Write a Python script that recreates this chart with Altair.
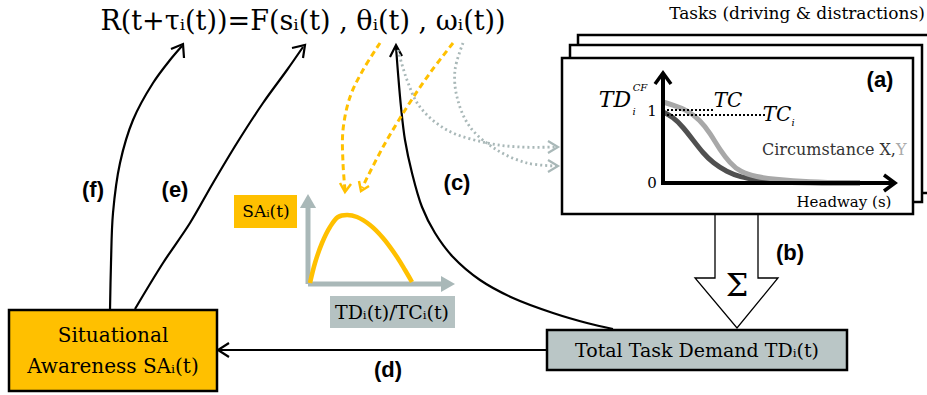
import altair as alt
import pandas as pd

W, H = 927, 395

# ---------------- boxes (x0, x1, y0, y1) ----------------
BOX_X0 = [578, 570, 562, 9, 547]
BOX_X1 = [940, 922, 913, 217, 847]
BOX_Y0 = [35, 45, 58, 310, 330]
BOX_Y1 = [193, 202, 214, 391, 370]
BOX_FILL = ["white", "white", "white", "#ffc000", "#bac6c6"]

# label patches without border
TAG_X0 = [234, 330]
TAG_X1 = [297, 455]
TAG_Y0 = [195, 296]
TAG_Y1 = [228, 328]
TAG_FILL = ["#ffc000", "#b5c2c2"]

# ---------------- solid black feedback curves ----------------
F_X = [110, 111, 113, 120, 133, 153, 170, 182]
F_Y = [310, 263, 213, 163, 120, 83, 60, 46]
E_X = [135, 163, 190, 213, 237, 263, 287, 303]
E_Y = [309, 263, 223, 183, 143, 103, 70, 47]
C_X = [613, 587, 553, 513, 480, 453, 435, 422, 412, 405, 401, 398, 396]
C_Y = [329, 323, 313, 298, 280, 257, 233, 207, 173, 140, 107, 73, 47]

# ---------------- dashed orange curves ----------------
O1_X = [380, 363, 350, 343, 343, 345]
O1_Y = [43, 70, 97, 130, 163, 190]
O2_X = [453, 430, 407, 383, 362]
O2_Y = [43, 73, 107, 147, 188]

# ---------------- dotted grey curves ----------------
G1_X = [398, 407, 420, 447, 487, 520, 556]
G1_Y = [50, 80, 107, 130, 143, 147, 147]
G2_X = [463, 455, 457, 470, 497, 527, 556]
G2_Y = [43, 70, 97, 127, 150, 163, 166]

# ---------------- task demand curves in panel (a) ----------------
DARK_X = [663, 673, 683, 693, 703, 713, 727, 740, 757, 773, 807, 860]
DARK_Y = [112, 117, 127, 140, 153, 163, 172, 177, 180, 182, 183, 183]
LIGHT_X = [663, 673, 687, 700, 710, 720, 730, 740, 757, 773, 807, 860]
LIGHT_Y = [102, 105, 110, 120, 133, 150, 163, 172, 177, 179, 182, 183]

# ---------------- SA curve in the inset ----------------
SA_X = [310, 315, 322, 330, 338, 347, 357, 370, 383, 397, 405, 412]
SA_Y = [283, 263, 243, 227, 217, 215, 217, 225, 238, 257, 270, 282]


def poly(name, xs, ys, color, width):
    return [dict(id=name, o=i, x=x, y=y, c=color, w=width)
            for i, (x, y) in enumerate(zip(xs, ys))]


def chevron(name, tip, a, b, color, width):
    # open arrow head: arm a -> tip -> arm b
    return poly(name, [a[0], tip[0], b[0]], [a[1], tip[1], b[1]], color, width)


xs = alt.Scale(domain=[0, W])
ys = alt.Scale(domain=[0, H], reverse=True)


def line_layer(rows, interp="linear", dash=None):
    kw = dict(interpolate=interp, strokeCap="butt", strokeJoin="miter")
    if dash:
        kw["strokeDash"] = dash
    return alt.Chart(pd.DataFrame(rows)).mark_line(**kw).encode(
        x=alt.X("x:Q", scale=xs, axis=None),
        y=alt.Y("y:Q", scale=ys, axis=None),
        detail="id:N",
        order="o:Q",
        color=alt.Color("c:N", scale=None),
        strokeWidth=alt.StrokeWidth("w:Q", scale=None),
    )


def rect_layer(x0, x1, y0, y1, fill, stroke=None, sw=0):
    df = pd.DataFrame(dict(x0=x0, x1=x1, y0=y0, y1=y1, f=fill, i=range(len(x0))))
    kw = {}
    if stroke:
        kw = dict(stroke=stroke, strokeWidth=sw)
    return alt.Chart(df).mark_rect(**kw).encode(
        x=alt.X("x0:Q", scale=xs, axis=None), x2="x1:Q",
        y=alt.Y("y0:Q", scale=ys, axis=None), y2="y1:Q",
        fill=alt.Fill("f:N", scale=None),
        order="i:Q",
    )


def text_layer(texts, tx, ty, colors, size, font="DejaVu Serif", weight="normal",
               style="normal", align="center"):
    sizes = size if isinstance(size, list) else [size] * len(texts)
    df = pd.DataFrame(dict(t=texts, x=tx, y=ty, c=colors, s=sizes))
    return alt.Chart(df).mark_text(
        font=font, fontWeight=weight, fontStyle=style,
        align=align, baseline="middle",
    ).encode(
        x=alt.X("x:Q", scale=xs, axis=None),
        y=alt.Y("y:Q", scale=ys, axis=None),
        text="t:N",
        color=alt.Color("c:N", scale=None),
        size=alt.Size("s:Q", scale=None),
    )


BLACK = "#000000"
ORANGE = "#ffc000"
GREY = "#a9b8b8"

boxes = rect_layer(BOX_X0, BOX_X1, BOX_Y0, BOX_Y1, BOX_FILL, stroke=BLACK, sw=2.5)
tags = rect_layer(TAG_X0, TAG_X1, TAG_Y0, TAG_Y1, TAG_FILL)

curves_black = line_layer(
    poly("f", F_X, F_Y, BLACK, 2.2) + poly("e", E_X, E_Y, BLACK, 2.2)
    + poly("c", C_X, C_Y, BLACK, 2.2),
    interp="catmull-rom",
)

straight_black = line_layer(
    chevron("fh", (183, 44), (171, 49), (184, 58), BLACK, 2.2)
    + chevron("eh", (305, 45), (292, 48), (303, 58), BLACK, 2.2)
    + chevron("ch", (396, 45), (390, 57), (402, 56), BLACK, 2.2)
    + poly("d", [547, 218], [350, 350], BLACK, 2.2)
    + chevron("dh", (218, 350), (229, 343), (229, 357), BLACK, 2.2)
    + poly("sigma", [715, 715, 695, 737, 778, 758, 758],
           [214, 278, 278, 328, 278, 278, 214], BLACK, 1.3)
    + poly("ya", [663, 663, 893], [75, 183, 183], BLACK, 4)
    + chevron("yah", (663, 73), (655, 84), (671, 84), BLACK, 3.5)
    + chevron("xah", (895, 183), (884, 175), (884, 191), BLACK, 3.5)
)

curves_orange = line_layer(
    poly("o1", O1_X, O1_Y, ORANGE, 3) + poly("o2", O2_X, O2_Y, ORANGE, 3),
    interp="catmull-rom", dash=[6, 4],
)
heads_orange = line_layer(
    chevron("o1h", (345, 192), (340, 183), (351, 184), ORANGE, 2.5)
    + chevron("o2h", (361, 191), (359, 181), (369, 186), ORANGE, 2.5)
)

curves_grey = line_layer(
    poly("g1", G1_X, G1_Y, GREY, 2.8) + poly("g2", G2_X, G2_Y, GREY, 2.8),
    interp="catmull-rom", dash=[2, 3],
)
heads_grey = line_layer(
    chevron("g1h", (558, 147), (548, 141), (548, 153), GREY, 2.2)
    + chevron("g2h", (558, 166), (548, 160), (548, 172), GREY, 2.2)
)

td_curves = line_layer(
    poly("dark", DARK_X, DARK_Y, "#505050", 5)
    + poly("light", LIGHT_X, LIGHT_Y, "#a8a8a8", 5),
    interp="basis",
)

tc_dots = line_layer(
    poly("tc1", [667, 713], [110, 110], BLACK, 2)
    + poly("tc2", [667, 766], [115, 115], BLACK, 2),
    dash=[2, 2],
)

inset_axes = line_layer(
    poly("iy", [308, 308], [284, 204], GREY, 5)
    + poly("ix", [308, 445], [284, 284], GREY, 5)
)
inset_heads = alt.Chart(pd.DataFrame(dict(
    x=[308, 448], y=[201, 284], s=["triangle-up", "triangle-right"]
))).mark_point(filled=True, size=260, opacity=1, color=GREY).encode(
    x=alt.X("x:Q", scale=xs, axis=None),
    y=alt.Y("y:Q", scale=ys, axis=None),
    shape=alt.Shape("s:N", scale=None),
)

sa_curve = line_layer(poly("sa", SA_X, SA_Y, ORANGE, 4.5), interp="catmull-rom")

# ---------------- texts ----------------
equation = text_layer(
    ["R(t+\u03c4\u1d62(t))=F(s\u1d62(t) , \u03b8\u1d62(t) , \u03c9\u1d62(t))"],
    [303], [22], [BLACK], 27,
)
serif_texts = text_layer(
    ["Tasks (driving & distractions)", "Total Task Demand TD\u1d62(t)",
     "Situational", "Awareness SA\u1d62(t)", "SA\u1d62(t)", "TD\u1d62(t)/TC\u1d62(t)"],
    [797, 697, 113, 113, 266, 392],
    [14, 351, 336, 367, 212, 313],
    [BLACK] * 6, [17, 19, 20, 20, 17, 19],
)
serif_small = text_layer(["Headway (s)"], [844], [202], [BLACK], 15)
circ = text_layer(["Circumstance X,", "Y"], [762, 896], [150, 150],
                  ["#333333", "#aaaaaa"], 16, align="left")
ticks = text_layer(["1", "0"], [652, 652], [111, 183], [BLACK, BLACK], 15)
sigma = text_layer(["\u03a3"], [737], [286], [BLACK], 32)
italic_big = text_layer(["TD", "TC", "TC"], [615, 728, 777], [100, 101, 115],
                        [BLACK] * 3, [22, 20, 20], style="italic")
italic_small = text_layer(["CF", "i", "i"], [640, 634, 793], [88, 112, 123],
                          [BLACK] * 3, 10, style="italic")
tags_bold = text_layer(
    ["(a)", "(b)", "(c)", "(d)", "(e)", "(f)"],
    [880, 790, 457, 388, 175, 93],
    [80, 253, 183, 370, 190, 190],
    [BLACK] * 6, 22, font="Liberation Sans", weight="bold",
)

chart = alt.layer(
    boxes, tags, td_curves, tc_dots, straight_black, curves_black,
    curves_orange, heads_orange, curves_grey, heads_grey,
    inset_axes, inset_heads, sa_curve,
    equation, serif_texts, serif_small, circ, ticks, sigma,
    italic_big, italic_small, tags_bold,
).properties(
    width=W, height=H, padding=0, autosize=alt.AutoSizeParams(type="none"),
    background="white",
).configure_view(stroke=None, clip=True)

chart.save("out.html", embed_options={"renderer": "svg", "actions": False})
